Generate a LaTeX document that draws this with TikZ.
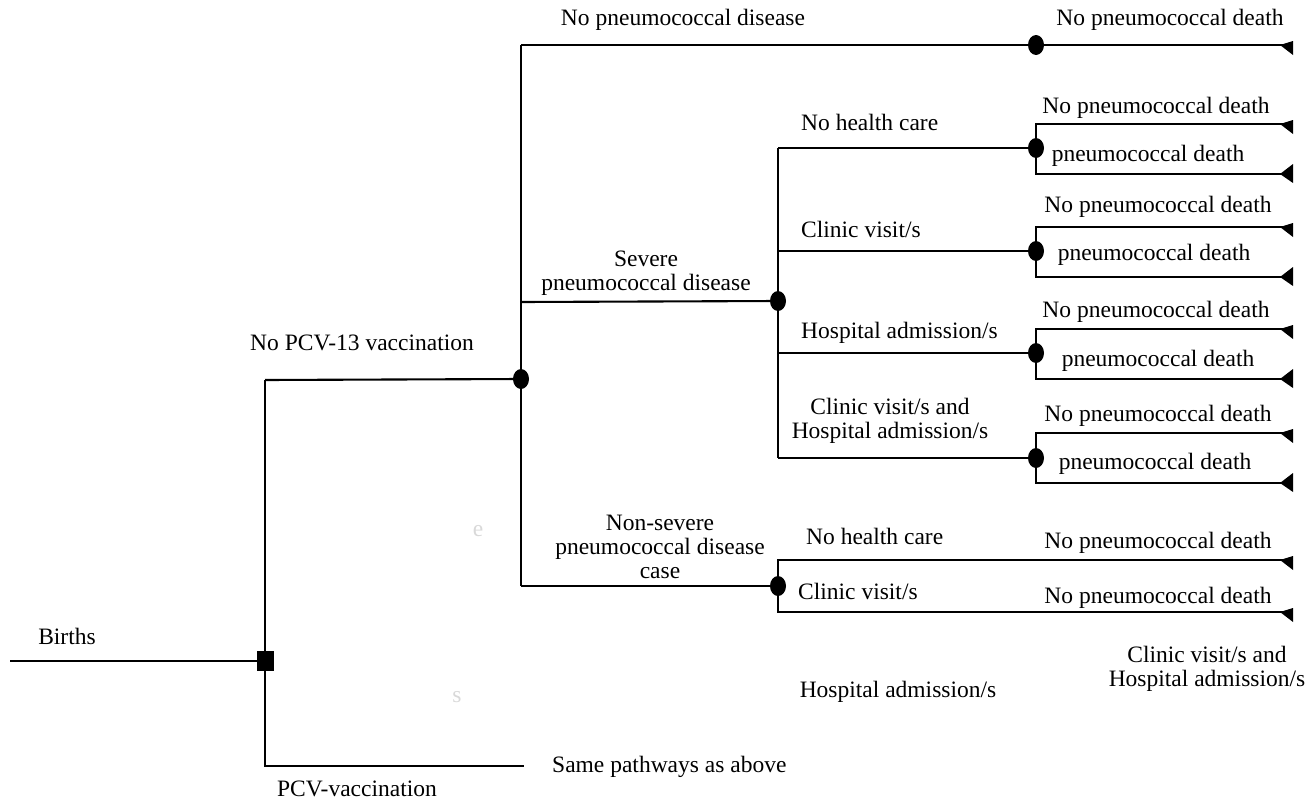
\documentclass[tikz,border=0pt]{standalone}
\usepackage{fontspec}
\setmainfont{Liberation Serif}
\usetikzlibrary{shapes.geometric,calc}
\begin{document}
\begin{tikzpicture}[x=1pt,y=-1pt,
  line/.style={line width=2.1pt},
  chance/.style={ellipse,fill=black,inner sep=0,minimum width=16pt,minimum height=20pt},
  decision/.style={rectangle,fill=black,inner sep=0,minimum width=17pt,minimum height=20pt},
  lbl/.style={inner sep=0,font=\fontsize{23.5}{24}\selectfont,align=center},
  lbll/.style={lbl,anchor=west},
  faint/.style={lbl,text=black!15},
  termtop/.pic={\fill (-13,0) -- (0,-4) -- (0,10) -- cycle;},
  termbot/.pic={\fill (-13,0) -- (0,-10) -- (0,9) -- cycle;}
]
\useasboundingbox (0,0) rectangle (1309,803);
% root
\coordinate (births) at (10,661);
\coordinate (vtop) at (265,380);
\coordinate (vbot) at (265,766);
\coordinate (pcvend) at (524,766);
\draw[line] (births) -- (265,661);
\draw[line] (vtop) -- (vbot) -- (pcvend);
\node[decision] (dec) at (265,661) {};
\node[chance] (c1) at (521,379) {};
\draw[line] (vtop) -- (c1);
% first chance node
\coordinate (a1) at (521,45);
\coordinate (a2) at (521,586);
\draw[line] (a1) -- (a2);
\node[chance] (c2) at (1036,45) {};
\coordinate (t0) at (1293,45);
\draw[line] (a1) -- (c2) -- (t0);
\pic at (t0) {termtop};
% severe
\coordinate (s0) at (521,302);
\node[chance] (c3) at (778,301) {};
\draw[line] (s0) -- (c3);
\coordinate (sv1) at (778,148);
\coordinate (sv2) at (778,458);
\draw[line] (sv1) -- (sv2);
\foreach \i/\y/\t/\b/\ny/\nx/\dy/\dx in {1/148/124/174/108/1156/156/1148,
                                        2/251/227/277/207/1158/255/1154,
                                        3/353/329/379/312/1156/361/1158,
                                        4/458/433/483/416/1158/464/1155} {
  \coordinate (h\i) at (778,\y);
  \node[chance] (d\i) at (1036,\y) {};
  \coordinate (dt\i) at (1036,\t);
  \coordinate (db\i) at (1036,\b);
  \coordinate (et\i) at (1293,\t);
  \coordinate (eb\i) at (1293,\b);
  \draw[line] (h\i) -- (d\i);
  \draw[line] (et\i) -- (dt\i) -- (db\i) -- (eb\i);
  \pic at (et\i) {termtop};
  \pic at (eb\i) {termbot};
  \node[lbl] (nd\i) at (\nx,\ny) {No pneumococcal death};
  \node[lbl] (pd\i) at (\dx,\dy) {pneumococcal death};
}
% non-severe
\coordinate (n0) at (521,586);
\node[chance] (c4) at (778,586) {};
\draw[line] (n0) -- (c4);
\coordinate (nv1) at (778,560);
\coordinate (nv2) at (778,612);
\coordinate (ne1) at (1293,560);
\coordinate (ne2) at (1293,612);
\draw[line] (ne1) -- (nv1) -- (nv2) -- (ne2);
\pic at (ne1) {termtop};
\pic at (ne2) {termtop};
% labels
\node[lbl] (lbirths) at (67,636) {Births};
\node[lbl] (lnopcv) at (362,343) {No PCV-13 vaccination};
\node[lbl] (lpcv) at (357,789) {PCV-vaccination};
\node[lbll] (lsame) at (552,767) {Same pathways as above};
\node[lbl] (lnodis) at (683,20) {No pneumococcal disease};
\node[lbl] (lnodeath0) at (1170,20) {No pneumococcal death};
\node[lbl] (lsevere) at (646,273) {Severe\\pneumococcal disease};
\node[lbll] (lnhc1) at (801,122) {No health care};
\node[lbll] (lcv1) at (801,229) {Clinic visit/s};
\node[lbll] (lha1) at (801,333) {Hospital admission/s};
\node[lbl] (lcvha1) at (890,421) {Clinic visit/s and\\Hospital admission/s};
\node[lbl] (lnonsev) at (660,547) {Non-severe\\pneumococcal disease\\case};
\node[lbll] (lnhc2) at (806,536) {No health care};
\node[lbll] (lcv2) at (798,591) {Clinic visit/s};
\node[lbl] (lnd5) at (1158,543) {No pneumococcal death};
\node[lbl] (lnd6) at (1158,598) {No pneumococcal death};
\node[lbl] (lcvha2) at (1207,669) {Clinic visit/s and\\Hospital admission/s};
\node[lbl] (lha2) at (898,692) {Hospital admission/s};
\node[faint] (fe) at (478,531) {e};
\node[faint] (fs) at (457,697) {s};
\end{tikzpicture}
\end{document}
